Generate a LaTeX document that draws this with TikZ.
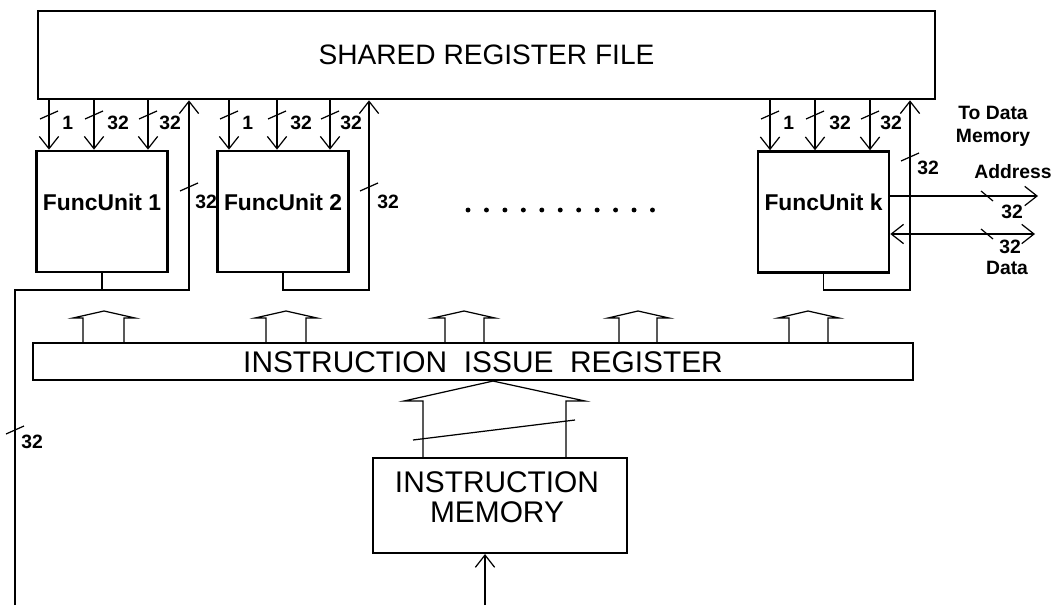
\documentclass[tikz,border=0pt]{standalone}
\usepackage{fontspec}
\setmainfont{Liberation Sans}
\usepackage{tikz}
\usetikzlibrary{arrows.meta}
\usetikzlibrary{positioning}

% small slanted stroke across a bus line
\newcommand{\vtick}[2]{\draw[sigline] (#1-9,#2+4) -- (#1+9,#2-4);}
\newcommand{\htick}[2]{\draw[sigline] (#1-6,#2-5) -- (#1+6,#2+5);}

\begin{document}
\begin{tikzpicture}[x=0.02cm, y=-0.02cm,
	sigline/.style={line width=0.7pt},
	wireto/.style={sigline, -{Straight Barb[length=7pt,width=11pt]}},
	boxframe/.style={draw, line width=1.5pt, inner sep=0pt},
	fubox/.style={boxframe, minimum width=2.62cm, minimum height=2.42cm},
	fulabel/.style={font=\fontsize{13}{15}\selectfont\bfseries, inner sep=0pt},
	buslabel/.style={font=\fontsize{11}{13}\selectfont\bfseries, inner sep=0pt},
	bigtext/.style={font=\fontsize{17}{17}\selectfont, align=center, inner sep=0pt}]

	\useasboundingbox (0,0) rectangle (1054,605);

	\node[boxframe, minimum width=17.94cm, minimum height=1.76cm, font=\fontsize{16}{18}\selectfont] (srf) at (486.5,55) {SHARED REGISTER FILE};

	\node[fubox] (fu1) at (102,211.5) {};
	\node[fubox] (fu2) at (283,211.5) {};
	\node[fubox] (fuk) at (823.5,212) {};
	\node[fulabel] (fu1t) at (102,202) {FuncUnit 1};
	\node[fulabel] (fu2t) at (283,202) {FuncUnit 2};
	\node[fulabel] (fukt) at (823.5,202) {FuncUnit k};

	% operands from the register file
	\draw[wireto] (srf.south -| 49,0) -- (fu1.north -| 49,0);
	\draw[wireto] (srf.south -| 94,0) -- (fu1.north -| 94,0);
	\draw[wireto] (srf.south -| 148,0) -- (fu1.north -| 148,0);
	\draw[wireto] (srf.south -| 229,0) -- (fu2.north -| 229,0);
	\draw[wireto] (srf.south -| 277,0) -- (fu2.north -| 277,0);
	\draw[wireto] (srf.south -| 330,0) -- (fu2.north -| 330,0);
	\draw[wireto] (srf.south -| 770,0) -- (fuk.north -| 770,0);
	\draw[wireto] (srf.south -| 815,0) -- (fuk.north -| 815,0);
	\draw[wireto] (srf.south -| 870,0) -- (fuk.north -| 870,0);

	\vtick{49}{115} \vtick{94}{115} \vtick{148}{115}
	\vtick{229}{115} \vtick{277}{115} \vtick{330}{115}
	\vtick{770}{115} \vtick{815}{115} \vtick{870}{115}

	\node[buslabel, anchor=west] (l11) at (62,123) {1};
	\node[buslabel, anchor=west] (l12) at (107,123) {32};
	\node[buslabel, anchor=west] (l13) at (159,123) {32};
	\node[buslabel, anchor=west] (l21) at (242,123) {1};
	\node[buslabel, anchor=west] (l22) at (290,123) {32};
	\node[buslabel, anchor=west] (l23) at (340,123) {32};
	\node[buslabel, anchor=west] (lk1) at (783,123) {1};
	\node[buslabel, anchor=west] (lk2) at (829,123) {32};
	\node[buslabel, anchor=west] (lk3) at (880,123) {32};

	% results back to the register file
	\coordinate (tap1) at (189,290);
	\coordinate (tap2) at (369,290);
	\coordinate (tapk) at (910,290);
	\coordinate (botl) at (15,605);
	\draw[wireto] (fu1.south) |- (tap1) -- (tap1 |- srf.south);
	\draw[wireto] (fu2.south) |- (tap2) -- (tap2 |- srf.south);
	\draw[wireto] (fuk.south) |- (tapk) -- (tapk |- srf.south);
	\draw[sigline] (botl) |- (fu1.south |- tap1);

	\vtick{189}{187} \vtick{369}{187} \vtick{910}{157} \vtick{15}{430}
	\node[buslabel, anchor=west] (r1) at (195,202) {32};
	\node[buslabel, anchor=west] (r2) at (377,202) {32};
	\node[buslabel, anchor=west] (rk) at (917,168) {32};
	\node[buslabel, anchor=west] (rl) at (21,442) {32};

	% data memory port
	\coordinate (addr) at (1038,196);
	\coordinate (data) at (1035,234);
	\draw[wireto] (fuk.east |- addr) -- (addr);
	\draw[sigline, {Straight Barb[length=7pt,width=11pt]}-{Straight Barb[length=7pt,width=11pt]}] (fuk.east |- data) -- (data);
	\htick{987}{196} \htick{987}{234}
	\node[buslabel, align=center] (tomem) at (993,126) {To Data\\Memory};
	\node[buslabel] (addrt) at (1013,172) {Address};
	\node[buslabel] (addrw) at (1012,212) {32};
	\node[buslabel] (dataw) at (1010,247) {32};
	\node[buslabel] (datat) at (1007,268) {Data};

	\draw[line width=2.8pt, line cap=round, dash pattern=on 0pt off 10.5pt] (468,210) -- (654,210);

	% issue register and its outputs
	\node[boxframe, line width=1.2pt, minimum width=17.6cm, minimum height=0.74cm] (iir) at (473,361.5) {};
	\node[bigtext] (iirt) at (483,362) {INSTRUCTION\ \ ISSUE\ \ REGISTER};

	\draw[sigline] (83,343) -- (83,318) -- (73,318) -- (104,311) -- (135,318) -- (124,318) -- (124,343);
	\draw[sigline] (266,343) -- (266,318) -- (255,318) -- (286,311) -- (317,318) -- (306,318) -- (306,343);
	\draw[sigline] (445,343) -- (445,318) -- (433,318) -- (464,311) -- (495,318) -- (484,318) -- (484,343);
	\draw[sigline] (619,343) -- (619,318) -- (608,318) -- (638,311) -- (669,318) -- (657,318) -- (657,343);
	\draw[sigline] (789,343) -- (789,318) -- (778,318) -- (808,311) -- (839,318) -- (828,318) -- (828,343);

	% instruction memory
	\node[boxframe, line width=1.2pt, minimum width=5.08cm, minimum height=1.9cm] (im) at (500,505.5) {};
	\node[bigtext] (imt) at (497,497) {INSTRUCTION\\MEMORY};

	\draw[sigline] (im.north -| 423,0) -- (423,401) -- (404,401) -- (iir.south -| 493,0) -- (585,401) -- (566,401) -- (im.north -| 566,0);
	\draw[sigline] (413,440) -- (575,420);

	\coordinate (imin) at (485,605);
	\draw[wireto] (imin) -- (imin |- im.south);

\end{tikzpicture}
\end{document}
